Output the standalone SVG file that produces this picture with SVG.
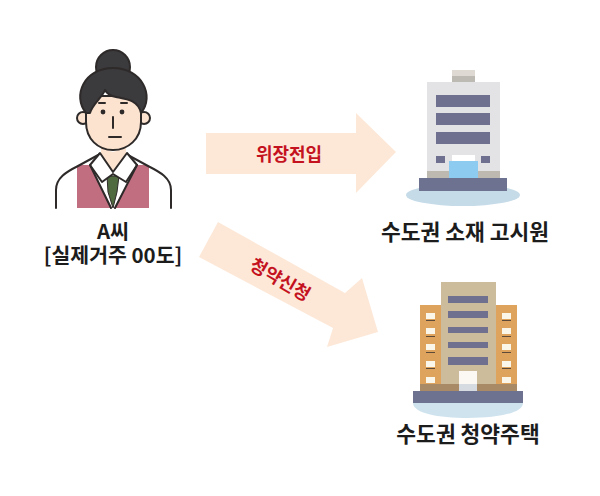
<svg xmlns="http://www.w3.org/2000/svg" width="600" height="496" viewBox="0 0 600 496">
<style>
.lab{font-family:"Noto Sans CJK KR","Noto Sans",sans-serif;font-weight:700;fill:#1c1c1c;text-anchor:middle}
.red{font-family:"Noto Sans CJK KR","Noto Sans",sans-serif;font-weight:700;font-size:18px;fill:#c4121f;text-anchor:middle}
.ln{fill:none;stroke:#2e2a2a;stroke-width:2;stroke-linecap:round;stroke-linejoin:round}
.arrow{fill:#fde8d8}
.win{fill:#6f7090}
.ww{fill:#fbf6ea}
.wd{fill:#5d4a38}
</style>
<rect width="600" height="496" fill="#fff"/>
<g id="connectors">
<g id="arrow-move">
<path class="arrow" d="M206 133H356V113L396 152L356 193V174H206Z"/>
<text class="red" x="289" y="161">위장전입</text>
</g>
<g id="arrow-apply">
<path class="arrow" d="M218 222L345 293L362 278L378 332L327 347L333 328L199 257Z"/>
<text class="red" transform="translate(280 280) rotate(30)" x="0" y="6">청약신청</text>
</g>
</g>
<g id="person">
<circle cx="113" cy="67" r="17" fill="#3b3a3c" stroke="#2e2a2a" stroke-width="2"/>
<path d="M56 208V190C56 178 66 172 78 166L100 154H126L148 166C160 172 171 178 171 190V208Z" fill="#fff"/>
<path d="M77 165H90L112 208H77Z M149 165H137L114 208H149Z" fill="#c06e80"/>
<path class="ln" d="M56 208V190C56 178 66 172 78 166L100 154M126 154L148 166C160 172 171 178 171 190V208"/>
<path d="M101 148V155L112 175H115L126 155V148L113 152Z" fill="#fbe3cf"/>
<circle cx="83" cy="118" r="6" fill="#fbe3cf" stroke="#2e2a2a" stroke-width="2"/>
<circle cx="144" cy="118" r="6" fill="#fbe3cf" stroke="#2e2a2a" stroke-width="2"/>
<path d="M86 96H141V122C141 139 128 150 113 150C98 150 86 139 86 122Z" fill="#fbe3cf" stroke="#2e2a2a" stroke-width="2"/>
<path d="M86 113C72 96 84 68 113 68C142 68 155 96 141 113C138 100 126 99 116 97C111 96 107 94 105 90C102 98 93 103 90 113Z" fill="#3b3a3c" stroke="#2e2a2a" stroke-width="2" stroke-linejoin="round"/>
<path class="ln" d="M99 103H105M121 103H127"/>
<circle cx="103" cy="112" r="2.4" fill="#2e2a2a"/>
<circle cx="122" cy="112" r="2.4" fill="#2e2a2a"/>
<path class="ln" d="M113 117V128M109 137H121"/>
<path d="M107 176H119L117 192L113 208L108 192Z" fill="#4f6a3e" stroke="#2e2a2a" stroke-width="1"/>
<path d="M100 153L90 165L102 182L113 174L126 182L137 165L127 153L113 172Z" fill="#fff" stroke="#2e2a2a" stroke-width="2" stroke-linejoin="round"/>
<path class="ln" d="M90 165L111 208M137 165L115 208"/>
<text class="lab" font-size="20.5"><tspan x="113" y="239">A씨</tspan><tspan x="113" y="263">[실제거주 00도]</tspan></text>
</g>
<g id="goshiwon">
<ellipse cx="463" cy="195" rx="57" ry="11" fill="#c6dbe8"/>
<rect x="452" y="70" width="23" height="8" fill="#ded9d2"/>
<rect x="452" y="76" width="23" height="6" fill="#bdb9b3"/>
<rect x="427" y="82" width="73" height="90" fill="#e3e3e6"/>
<rect class="win" x="436" y="95" width="54" height="12"/>
<rect class="win" x="436" y="113" width="54" height="12"/>
<rect class="win" x="436" y="132" width="54" height="12"/>
<rect class="win" x="436" y="156" width="9" height="7"/>
<rect class="win" x="481" y="156" width="9" height="7"/>
<rect x="452" y="155" width="23" height="7" fill="#fff"/>
<rect x="427" y="171" width="73" height="8" fill="#bdb9b0"/>
<rect x="449" y="161" width="29" height="18" fill="#8ecbf0"/>
<rect x="419" y="178" width="88" height="13" fill="#6d7290"/>
<text class="lab" x="465" y="240" font-size="21.5">수도권 소재 고시원</text>
</g>
<g id="housing">
<path d="M413 403H523C523 413 498 418 468 418C438 418 413 413 413 403Z" fill="#cfe3ee"/>
<rect x="441" y="282" width="55" height="103" fill="#cdbc9b"/>
<rect x="420" y="305" width="21" height="80" fill="#dea45e"/>
<rect x="496" y="305" width="21" height="80" fill="#dea45e"/>
<rect class="win" x="448" y="296" width="40" height="7"/>
<rect class="win" x="448" y="311" width="40" height="7"/>
<rect class="win" x="448" y="327" width="40" height="6"/>
<rect class="win" x="448" y="342" width="40" height="6"/>
<rect class="win" x="448" y="357" width="40" height="8"/>
<g>
<rect class="ww" x="426" y="313" width="9" height="6"/><rect class="wd" x="426" y="320" width="9" height="1"/>
<rect class="ww" x="426" y="328" width="9" height="6"/><rect class="wd" x="426" y="336" width="9" height="1"/>
<rect class="ww" x="426" y="344" width="9" height="6"/><rect class="wd" x="426" y="352" width="9" height="1"/>
<rect class="ww" x="426" y="361" width="9" height="6"/><rect class="wd" x="426" y="368" width="9" height="1"/>
<rect class="ww" x="426" y="377" width="9" height="6"/>
<rect class="ww" x="502" y="313" width="9" height="6"/><rect class="wd" x="502" y="320" width="9" height="1"/>
<rect class="ww" x="502" y="328" width="9" height="6"/><rect class="wd" x="502" y="336" width="9" height="1"/>
<rect class="ww" x="502" y="344" width="9" height="6"/><rect class="wd" x="502" y="352" width="9" height="1"/>
<rect class="ww" x="502" y="361" width="9" height="6"/><rect class="wd" x="502" y="368" width="9" height="1"/>
<rect class="ww" x="502" y="377" width="9" height="6"/>
</g>
<rect x="420" y="384" width="97" height="7" fill="#a88b66"/>
<rect x="459" y="371" width="18" height="13" fill="#fbf8f4"/>
<rect x="459" y="384" width="18" height="7" fill="#d5dbe0"/>
<rect x="413" y="391" width="110" height="12" fill="#6d7290"/>
<text class="lab" x="468" y="442" font-size="21.5">수도권 청약주택</text>
</g>
</svg>
